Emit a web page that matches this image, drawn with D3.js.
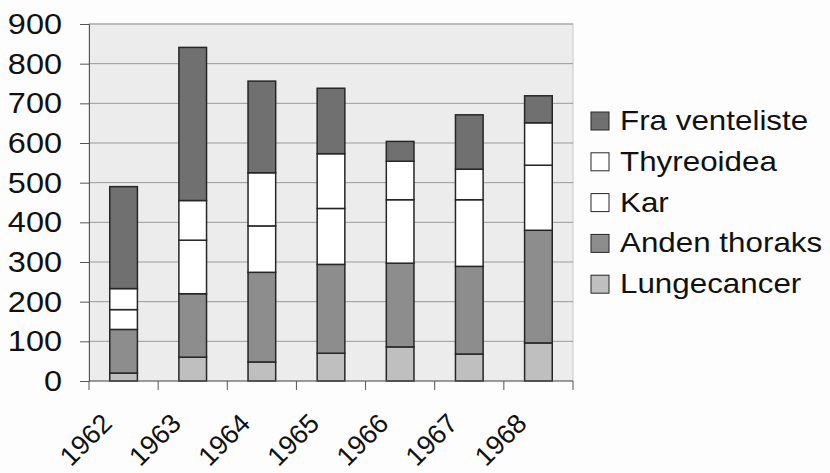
<!DOCTYPE html>
<html>
<head>
<meta charset="utf-8">
<script src="https://cdn.jsdelivr.net/npm/d3@7/dist/d3.min.js"></script>
<style>
  html, body { margin: 0; padding: 0; background: #fdfdfd; }
  svg { display: block; }
  text { font-family: "Liberation Sans", Arial, sans-serif; fill: #111; }
</style>
</head>
<body>
<svg id="chart" width="830" height="473"></svg>
<script>
// Operations per year, stacked by category
const years = ["1962", "1963", "1964", "1965", "1966", "1967", "1968"];
const lungecancer   = [20, 60, 48, 70, 86, 68, 96];
const andenThoraks  = [110, 160, 226, 224, 211, 221, 284];
const kar           = [50, 135, 117, 141, 160, 168, 164];
const thyreoidea    = [53, 100, 134, 138, 97, 77, 107];
const fraVenteliste = [257, 386, 231, 165, 50, 137, 68];
const yTicks = [0, 100, 200, 300, 400, 500, 600, 700, 800, 900];

// Stack order, bottom to top
const series = [
  { key: "Lungecancer",    values: lungecancer,   color: "#bfbfbf" },
  { key: "Anden thoraks",  values: andenThoraks,  color: "#8d8d8d" },
  { key: "Kar",            values: kar,           color: "#ffffff" },
  { key: "Thyreoidea",     values: thyreoidea,    color: "#ffffff" },
  { key: "Fra venteliste", values: fraVenteliste, color: "#707070" }
];

const rows = years.map((y, i) => {
  const r = { year: y };
  series.forEach(s => { r[s.key] = s.values[i]; });
  return r;
});

const svg = d3.select("#chart");
const plot = { left: 89, right: 573, top: 24, bottom: 381 };
const sx = 1.12; // horizontal text stretch

const x = d3.scaleBand().domain(years).range([plot.left, plot.right])
  .paddingInner(0.6).paddingOuter(0.3);
const y = d3.scaleLinear().domain([0, 900]).range([plot.bottom, plot.top]);

// plot area background
svg.append("rect")
  .attr("x", plot.left).attr("y", plot.top)
  .attr("width", plot.right - plot.left).attr("height", plot.bottom - plot.top)
  .attr("fill", "#ececec").attr("stroke", "#c8c8c8").attr("stroke-width", 1);

// gridlines
svg.append("g").selectAll("line").data(yTicks.filter(d => d > 0)).join("line")
  .attr("x1", plot.left).attr("x2", plot.right)
  .attr("y1", d => y(d)).attr("y2", d => y(d))
  .attr("stroke", "#9a9a9a").attr("stroke-width", 1);

// y axis
const yAxis = svg.append("g")
  .attr("transform", `translate(${plot.left},0)`)
  .call(d3.axisLeft(y).tickValues(yTicks).tickSize(9).tickPadding(0).tickFormat(""));
yAxis.select(".domain").attr("stroke", "#555");
yAxis.selectAll(".tick line").attr("stroke", "#555");

svg.append("g").selectAll("text").data(yTicks).join("text")
  .attr("transform", d => `translate(62,${y(d)}) scale(${sx},1)`)
  .attr("text-anchor", "end")
  .attr("dominant-baseline", "central")
  .style("font-size", "29px")
  .text(d => d);

// stacked bars
const stacked = d3.stack().keys(series.map(s => s.key))(rows);
const color = d3.scaleOrdinal().domain(series.map(s => s.key)).range(series.map(s => s.color));

svg.append("g").selectAll("g").data(stacked).join("g")
  .attr("fill", d => color(d.key))
  .selectAll("rect").data(d => d).join("rect")
  .attr("x", d => x(d.data.year))
  .attr("width", x.bandwidth())
  .attr("y", d => y(d[1]))
  .attr("height", d => y(d[0]) - y(d[1]))
  .attr("stroke", "#262626").attr("stroke-width", 1.5);

// x axis line and category boundary ticks
const step = x.step();
const bounds = d3.range(years.length + 1).map(i => plot.left + i * step);
svg.append("line")
  .attr("x1", plot.left).attr("x2", plot.right)
  .attr("y1", plot.bottom).attr("y2", plot.bottom)
  .attr("stroke", "#555").attr("stroke-width", 1);
svg.append("g").selectAll("line").data(bounds).join("line")
  .attr("x1", d => d).attr("x2", d => d)
  .attr("y1", plot.bottom).attr("y2", plot.bottom + 9)
  .attr("stroke", "#555");

// rotated year labels
svg.append("g").selectAll("text").data(years).join("text")
  .attr("transform", d => `translate(${x(d) + x.bandwidth() / 2 - 10},${plot.bottom + 44}) rotate(-45)`)
  .attr("text-anchor", "end")
  .style("font-size", "27px")
  .text(d => d);

// legend, top to bottom
const legendItems = series.slice().reverse();
const lg = svg.append("g").selectAll("g").data(legendItems).join("g")
  .attr("transform", (d, i) => `translate(591,${130 + i * 40.8})`);
lg.append("rect")
  .attr("x", 0).attr("y", -18).attr("width", 18).attr("height", 18)
  .attr("fill", d => d.color).attr("stroke", "#262626").attr("stroke-width", 1);
lg.append("text")
  .attr("transform", `translate(29,0) scale(${sx},1)`)
  .style("font-size", "28px")
  .text(d => d.key);
</script>
</body>
</html>
